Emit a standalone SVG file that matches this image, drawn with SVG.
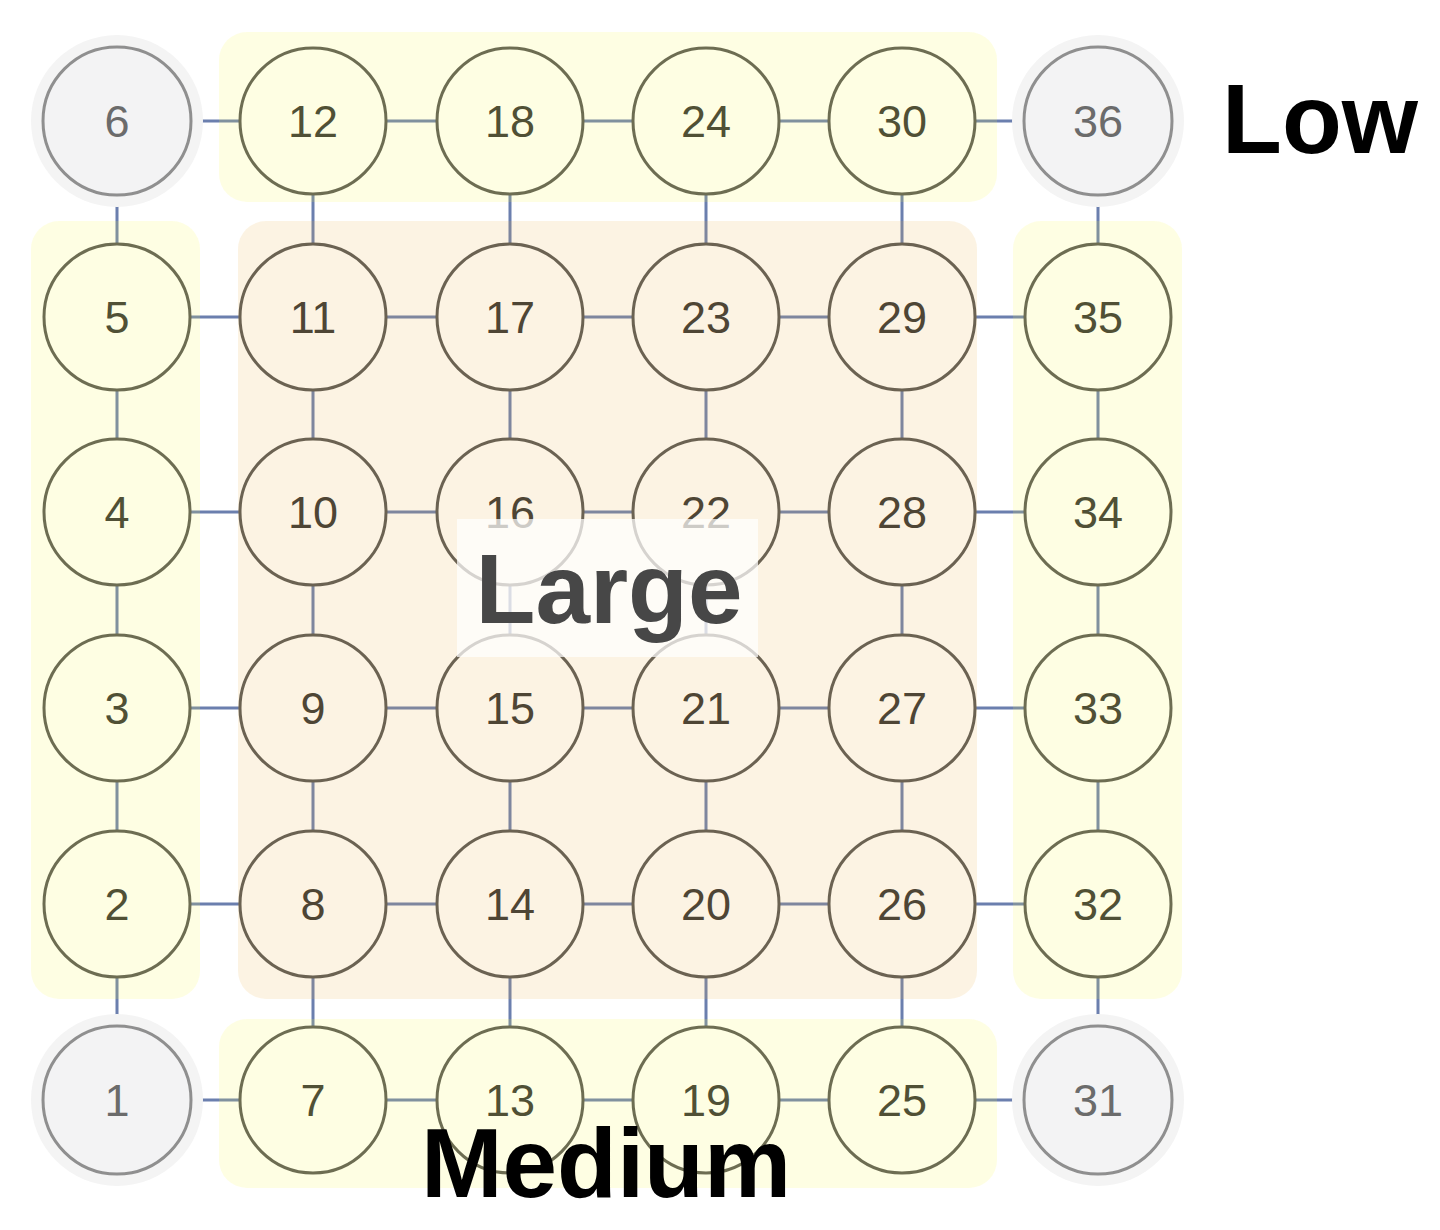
<svg xmlns="http://www.w3.org/2000/svg" width="1440" height="1230" viewBox="0 0 1440 1230">
<style>
.e{stroke:#6b7fae;stroke-width:3;fill:none}
.n circle{fill:#fff;stroke:#555;stroke-width:3}
.n text,.c text{font-family:"Liberation Sans",Arial,sans-serif;font-size:45px;text-anchor:middle;fill:#333}
.c .halo{fill:#f4f4f4;stroke:none}
.c .body{fill:#f3f3f4;stroke:#8f8f8f;stroke-width:3}
.c text{fill:#6b6b6b}
.ry{fill:#fafa44;fill-opacity:0.15}
.rl{fill:#eaaf44;fill-opacity:0.15}
.big{font-family:"Liberation Sans",Arial,sans-serif;font-size:98px;font-weight:bold;text-anchor:middle}
</style>
<rect width="1440" height="1230" fill="#fff"/>
<g id="connectors">
<path class="e" d="M117 121H1098M117 317H1098M117 512H1098M117 708H1098M117 904H1098M117 1100H1098"/>
<path class="e" d="M117 121V1100M313 121V1100M510 121V1100M706 121V1100M902 121V1100M1098 121V1100"/>
</g>
<g id="nodes">
<g id="n12" class="n"><circle cx="313" cy="121" r="73"/><text x="313" y="137">12</text></g>
<g id="n18" class="n"><circle cx="510" cy="121" r="73"/><text x="510" y="137">18</text></g>
<g id="n24" class="n"><circle cx="706" cy="121" r="73"/><text x="706" y="137">24</text></g>
<g id="n30" class="n"><circle cx="902" cy="121" r="73"/><text x="902" y="137">30</text></g>
<g id="n5" class="n"><circle cx="117" cy="317" r="73"/><text x="117" y="333">5</text></g>
<g id="n11" class="n"><circle cx="313" cy="317" r="73"/><text x="313" y="333">11</text></g>
<g id="n17" class="n"><circle cx="510" cy="317" r="73"/><text x="510" y="333">17</text></g>
<g id="n23" class="n"><circle cx="706" cy="317" r="73"/><text x="706" y="333">23</text></g>
<g id="n29" class="n"><circle cx="902" cy="317" r="73"/><text x="902" y="333">29</text></g>
<g id="n35" class="n"><circle cx="1098" cy="317" r="73"/><text x="1098" y="333">35</text></g>
<g id="n4" class="n"><circle cx="117" cy="512" r="73"/><text x="117" y="528">4</text></g>
<g id="n10" class="n"><circle cx="313" cy="512" r="73"/><text x="313" y="528">10</text></g>
<g id="n16" class="n"><circle cx="510" cy="512" r="73"/><text x="510" y="528">16</text></g>
<g id="n22" class="n"><circle cx="706" cy="512" r="73"/><text x="706" y="528">22</text></g>
<g id="n28" class="n"><circle cx="902" cy="512" r="73"/><text x="902" y="528">28</text></g>
<g id="n34" class="n"><circle cx="1098" cy="512" r="73"/><text x="1098" y="528">34</text></g>
<g id="n3" class="n"><circle cx="117" cy="708" r="73"/><text x="117" y="724">3</text></g>
<g id="n9" class="n"><circle cx="313" cy="708" r="73"/><text x="313" y="724">9</text></g>
<g id="n15" class="n"><circle cx="510" cy="708" r="73"/><text x="510" y="724">15</text></g>
<g id="n21" class="n"><circle cx="706" cy="708" r="73"/><text x="706" y="724">21</text></g>
<g id="n27" class="n"><circle cx="902" cy="708" r="73"/><text x="902" y="724">27</text></g>
<g id="n33" class="n"><circle cx="1098" cy="708" r="73"/><text x="1098" y="724">33</text></g>
<g id="n2" class="n"><circle cx="117" cy="904" r="73"/><text x="117" y="920">2</text></g>
<g id="n8" class="n"><circle cx="313" cy="904" r="73"/><text x="313" y="920">8</text></g>
<g id="n14" class="n"><circle cx="510" cy="904" r="73"/><text x="510" y="920">14</text></g>
<g id="n20" class="n"><circle cx="706" cy="904" r="73"/><text x="706" y="920">20</text></g>
<g id="n26" class="n"><circle cx="902" cy="904" r="73"/><text x="902" y="920">26</text></g>
<g id="n32" class="n"><circle cx="1098" cy="904" r="73"/><text x="1098" y="920">32</text></g>
<g id="n7" class="n"><circle cx="313" cy="1100" r="73"/><text x="313" y="1116">7</text></g>
<g id="n13" class="n"><circle cx="510" cy="1100" r="73"/><text x="510" y="1116">13</text></g>
<g id="n19" class="n"><circle cx="706" cy="1100" r="73"/><text x="706" y="1116">19</text></g>
<g id="n25" class="n"><circle cx="902" cy="1100" r="73"/><text x="902" y="1116">25</text></g>
</g>
<g id="regions">
<rect class="ry" x="219" y="32" width="778" height="170" rx="28"/>
<rect class="ry" x="31" y="221" width="169" height="778" rx="28"/>
<rect class="rl" x="238" y="221" width="739" height="778" rx="28"/>
<rect class="ry" x="1013" y="221" width="169" height="778" rx="28"/>
<rect class="ry" x="219" y="1019" width="778" height="169" rx="28"/>
</g>
<g id="corners">
<g id="n6" class="c"><circle class="halo" cx="117" cy="121" r="86"/><circle class="body" cx="117" cy="121" r="74"/><text x="117" y="137">6</text></g>
<g id="n36" class="c"><circle class="halo" cx="1098" cy="121" r="86"/><circle class="body" cx="1098" cy="121" r="74"/><text x="1098" y="137">36</text></g>
<g id="n1" class="c"><circle class="halo" cx="117" cy="1100" r="86"/><circle class="body" cx="117" cy="1100" r="74"/><text x="117" y="1116">1</text></g>
<g id="n31" class="c"><circle class="halo" cx="1098" cy="1100" r="86"/><circle class="body" cx="1098" cy="1100" r="74"/><text x="1098" y="1116">31</text></g>
</g>
<g id="labels">
<rect x="457" y="519" width="301" height="138" fill="#fff" fill-opacity="0.72"/>
<text class="big" x="609" y="623" fill="#474747">Large</text>
<text class="big" x="606" y="1197" fill="#000">Medium</text>
<text class="big" x="1320" y="153" fill="#000">Low</text>
</g>
</svg>
